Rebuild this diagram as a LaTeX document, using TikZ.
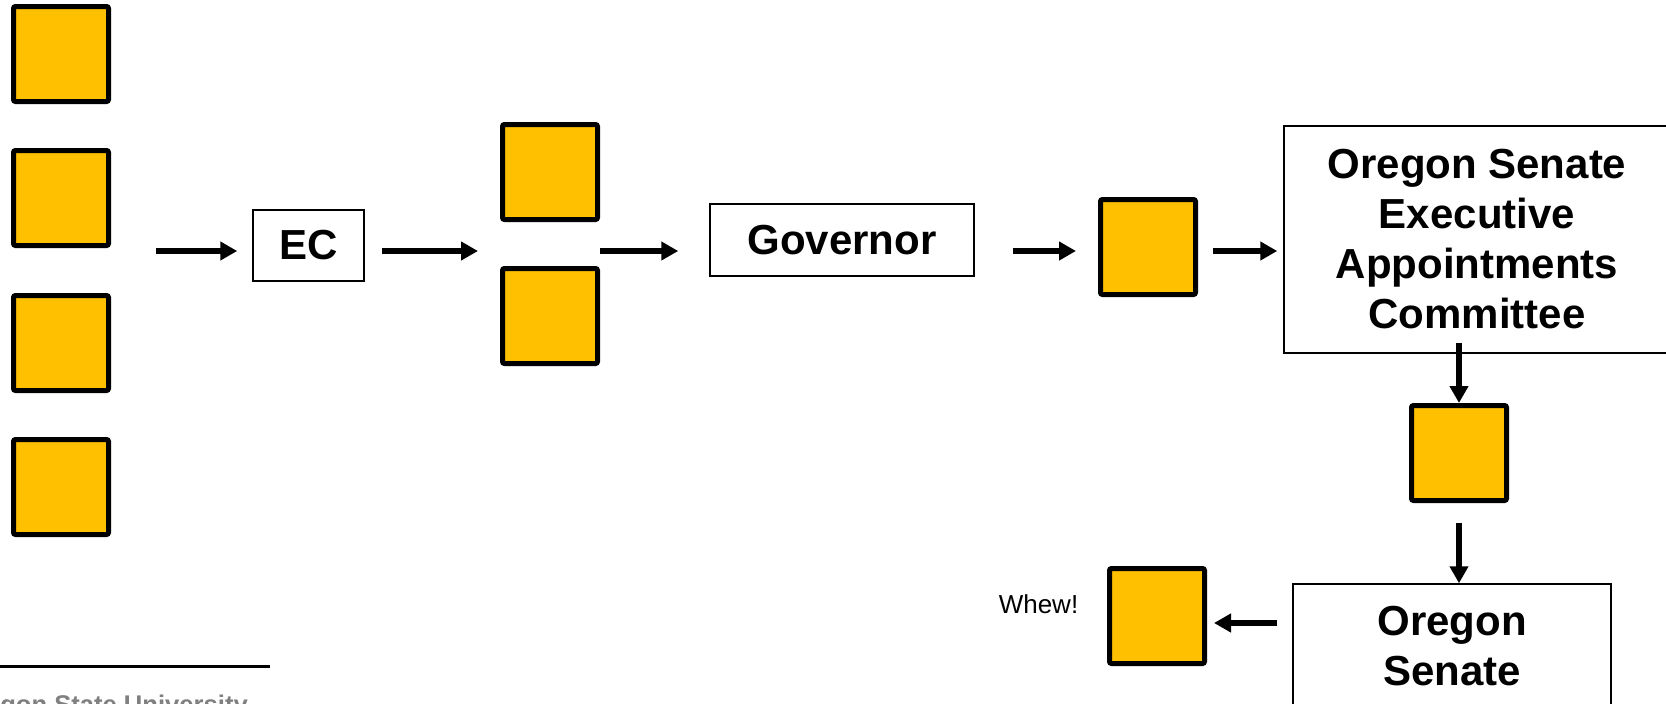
\documentclass[tikz,border=0pt]{standalone}
\usepackage{fontspec}
\setmainfont{Liberation Sans}
\usetikzlibrary{arrows.meta,calc}
\definecolor{gold}{HTML}{FFC000}
\definecolor{footgray}{HTML}{808080}
\begin{document}
\begin{tikzpicture}[x=1pt,y=-1pt,
 sq/.style={draw=black,line width=5pt,fill=gold,rounded corners=2pt,minimum size=95pt,inner sep=0pt},
 txtbox/.style={draw=black,line width=1.5pt,inner sep=0pt,font=\fontsize{42pt}{50pt}\selectfont\bfseries,align=center},
 arr/.style={line width=6pt,-{Triangle[width=18pt,length=17pt]}}]
\useasboundingbox[fill=white] (0,0) rectangle (1666,704);
% left column
\node[sq] (l1) at (61,54) {};
\node[sq] (l2) at (61,198) {};
\node[sq] (l3) at (61,343) {};
\node[sq] (l4) at (61,487) {};
% boxes and squares
\node[txtbox,minimum width=111pt,minimum height=71pt] (ec) at (308.5,245.5) {EC};
\node[sq] (m1) at (550,172) {};
\node[sq] (m2) at (550,316) {};
\node[txtbox,minimum width=264pt,minimum height=72pt] (gov) at (842,240) {Governor};
\node[sq] (s5) at (1148,247) {};
\node[txtbox,minimum width=386pt,minimum height=227pt] (oseac) at (1477,239.5) {Oregon Senate\\Executive\\Appointments\\Committee};
\node[sq] (s6) at (1459,453) {};
\node[txtbox,minimum width=318pt,minimum height=124pt] (osen) at (1452,646) {Oregon\\Senate};
\node[sq] (ws) at (1157,616) {};
\node[font=\fontsize{26pt}{30pt}\selectfont,anchor=base,inner sep=0pt] (whew) at (1038.5,613) {Whew!};
% helper coordinates
\coordinate (ay) at (0,251);
\coordinate (wy) at (0,623);
\coordinate (a1s) at (156,251);
\coordinate (d1s) at (1459,343);
% arrows
\draw[arr,shorten >=15pt] (a1s) -- (ec.west |- ay);
\draw[arr,shorten <=17pt,shorten >=22pt] (ec.east |- ay) -- (m1.west |- ay);
\draw[arr,shorten >=31pt] (m1.east |- ay) -- (gov.west |- ay);
\draw[arr,shorten <=38pt,shorten >=22pt] (gov.east |- ay) -- (s5.west |- ay);
\draw[arr,shorten <=15pt,shorten >=6pt] (s5.east |- ay) -- (oseac.west |- ay);
\draw[arr] (d1s) -- (s6.north);
\draw[arr,shorten <=20pt] (s6.south) -- (osen.north -| s6.south);
\draw[arr,shorten <=15pt,shorten >=7pt] (osen.west |- wy) -- (ws.east |- wy);
% footer
\coordinate (fl1) at (0,666);
\coordinate (fl2) at (270,666);
\draw[line width=3pt] (fl1) -- (fl2);
\node[anchor=base east,inner sep=0pt,text=footgray,font=\fontsize{25.6pt}{30pt}\selectfont\bfseries] (osu) at (248,713) {Oregon State University};
\end{tikzpicture}
\end{document}
